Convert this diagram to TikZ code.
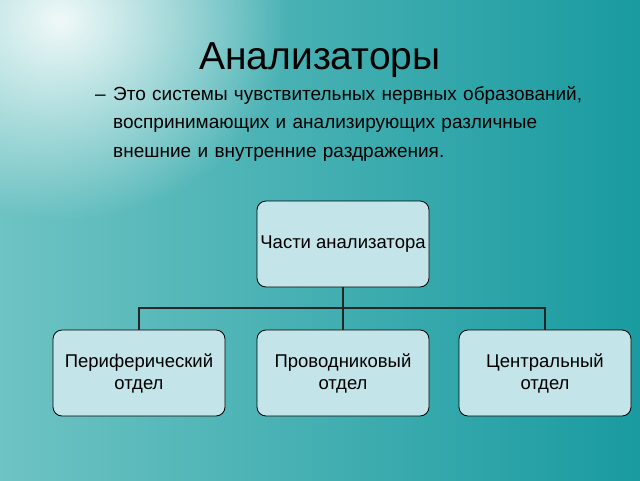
\documentclass[tikz,border=0pt]{standalone}
\usepackage{fontspec}
\setmainfont{Liberation Sans}
\usetikzlibrary{fadings}
\tikzfading[name=myglow, inner color=transparent!0, outer color=transparent!100]
\definecolor{tealA}{RGB}{110,195,195}
\definecolor{tealB}{RGB}{25,155,160}
\definecolor{boxc}{RGB}{195,228,232}
\begin{document}
\begin{tikzpicture}[x=1pt,y=-1pt,
  part/.style={draw=black,line width=0.8pt,fill=boxc,rounded corners=9pt,minimum width=172pt,minimum height=86pt,align=center,font=\fontsize{18.5}{22}\selectfont},
  conn/.style={draw=black!85,line width=1.6pt}]
\useasboundingbox (0,0) rectangle (640,480);
\shade[left color=tealA,right color=tealB] (0,0) rectangle (640,480);
\fill[white,path fading=myglow,opacity=0.9] (60,20) ellipse (230 and 200);
\node (title) at (320,60) {\fontsize{39}{44}\selectfont Анализаторы};
\node[anchor=north west,inner sep=0pt,text width=472pt,font=\fontsize{19}{28.5}\selectfont] (desc) at (113,86)
 {\leftskip=0pt\rightskip=0pt\parfillskip=0pt plus 1fil\hskip-18pt\makebox[18pt][l]{–}Это системы чувствительных нервных образований, воспринимающих и анализирующих различные внешние и внутренние раздражения.};
\node[part] (top) at (343,244) {Части анализатора};
\node[part] (p1) at (139,373) {Периферический\\отдел};
\node[part] (p2) at (343,373) {Проводниковый\\отдел};
\node[part] (p3) at (545,373) {Центральный\\отдел};
\coordinate (j) at (343,308);
\draw[conn] (top.south) -- (j);
\draw[conn] (j) -| (p1.north);
\draw[conn] (j) -- (p2.north);
\draw[conn] (j) -| (p3.north);
\end{tikzpicture}
\end{document}
